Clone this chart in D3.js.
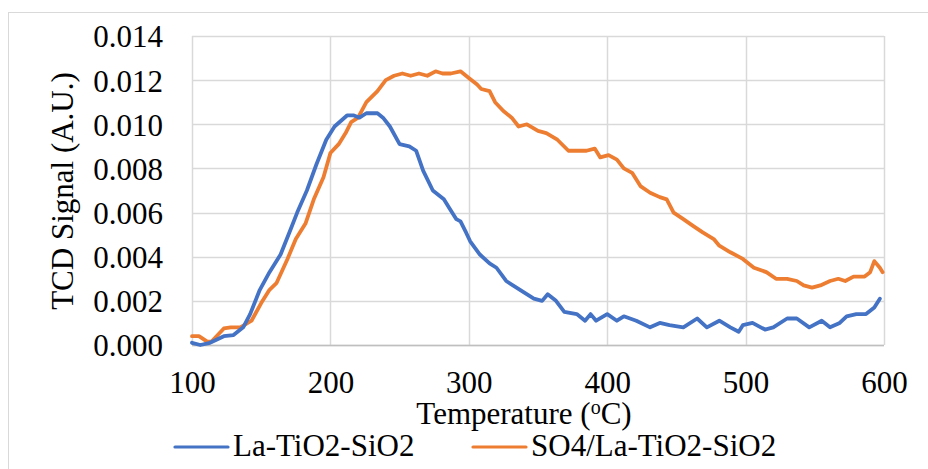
<!DOCTYPE html>
<html>
<head>
<meta charset="utf-8">
<script src="https://cdn.jsdelivr.net/npm/d3@7"></script>
<style>
  body { margin: 0; background: white; }
  svg text { font-family: "Times New Roman", "Liberation Serif", Times, "DejaVu Serif", serif; fill: #000; }
</style>
</head>
<body>
<svg id="chart" width="928" height="469"></svg>
<script>
// values
let blueTemp = [100,106,113,123,130,137,142,149,156,164,171,176,183,190,197,203,212,217,221,226,234,238,243,250,257,262,267,274,282,286,291,294,298,301,308,315,320,327,337,347,353,357,363,369,378,384,388,392,400,407,412,421,431,438,445,455,465,472,481,489,495,498,505,514,520,530,537,546,555,561,568,573,580,587,593,597]
let blueSignal = [0.0001,0.0000,0.0001,0.0004,0.00045,0.0008,0.0014,0.0025,0.0033,0.0041,0.0052,0.0060,0.0070,0.0082,0.0093,0.0099,0.0104,0.0104,0.0103,0.0105,0.0105,0.0103,0.0099,0.0091,0.0090,0.0088,0.0079,0.0070,0.0066,0.0062,0.0057,0.0056,0.0051,0.0047,0.0041,0.0037,0.0035,0.0029,0.0025,0.0021,0.0020,0.0023,0.0020,0.0015,0.0014,0.0011,0.0014,0.0011,0.0014,0.0011,0.0013,0.0011,0.0008,0.0010,0.0009,0.0008,0.0012,0.0008,0.0011,0.0008,0.0006,0.0009,0.0010,0.0007,0.0008,0.0012,0.0012,0.0008,0.0011,0.0008,0.0010,0.0013,0.0014,0.0014,0.0017,0.0021]

let orangeTemp = [100,105,111,114,123,128,135,143,150,156,161,169,175,182,188,195,200,206,211,215,220,226,234,240,246,252,258,264,270,276,281,287,294,300,306,309,315,319,325,331,336,342,350,356,364,372,378,385,391,395,401,407,412,418,424,431,438,443,448,455,462,469,477,481,489,498,506,515,522,530,537,542,548,554,561,567,572,578,586,590,593,597,599]
let orangeSignal = [0.0004,0.0004,0.00015,0.00015,0.00075,0.0008,0.0008,0.0011,0.0019,0.0025,0.0028,0.0039,0.0048,0.0055,0.0066,0.0076,0.0087,0.0091,0.0096,0.0101,0.0103,0.0110,0.0115,0.0120,0.0122,0.0123,0.0122,0.0123,0.0122,0.0124,0.0123,0.0123,0.0124,0.0121,0.0118,0.0116,0.0115,0.0110,0.0106,0.0103,0.0099,0.0100,0.0097,0.0096,0.0093,0.0088,0.0088,0.0088,0.0089,0.0085,0.0086,0.0084,0.0080,0.0078,0.0072,0.0069,0.0067,0.0066,0.0060,0.0057,0.0054,0.0051,0.0048,0.0045,0.0042,0.0039,0.0035,0.0033,0.0030,0.0030,0.0029,0.0027,0.0026,0.0027,0.0029,0.0030,0.0029,0.0031,0.0031,0.0033,0.0038,0.0035,0.0033]

let xTicks = [100, 200, 300, 400, 500, 600]
let yTicks = [0, 0.002, 0.004, 0.006, 0.008, 0.010, 0.012, 0.014]
let seriesNames = ["La-TiO2-SiO2", "SO4/La-TiO2-SiO2"]
let seriesColors = ["#4472C4", "#ED7D31"]

let plotLeft = 192, plotRight = 884, plotTop = 36, plotBottom = 345
let serif = '"Times New Roman", "Liberation Serif", Times, "DejaVu Serif", serif'

let svg = d3.select("#chart")

// outer chart border
svg.append("rect")
  .attr("x", 8.5).attr("y", 12.5)
  .attr("width", 940).attr("height", 480)
  .attr("fill", "white")
  .attr("stroke", "#d9d9d9")

let x = d3.scaleLinear().domain([100, 600]).range([plotLeft, plotRight])
let y = d3.scaleLinear().domain([0, 0.014]).range([plotBottom, plotTop])

// gridlines
let grid = svg.append("g")
grid.selectAll(".hgrid").data(yTicks).enter().append("line")
  .attr("x1", plotLeft).attr("x2", plotRight)
  .attr("y1", d => Math.round(y(d)) + 0.5).attr("y2", d => Math.round(y(d)) + 0.5)
  .attr("stroke", "#d9d9d9").attr("stroke-width", 1.5)
grid.selectAll(".vgrid").data(xTicks).enter().append("line")
  .attr("x1", d => Math.round(x(d)) + 0.5).attr("x2", d => Math.round(x(d)) + 0.5)
  .attr("y1", plotTop).attr("y2", plotBottom)
  .attr("stroke", "#d9d9d9").attr("stroke-width", 1.5)
// bottom axis line
svg.append("line")
  .attr("x1", plotLeft).attr("x2", plotRight)
  .attr("y1", plotBottom + 0.5).attr("y2", plotBottom + 0.5)
  .attr("stroke", "#bfbfbf").attr("stroke-width", 1.5)

// axes (labels only)
let xAxis = svg.append("g")
  .attr("transform", `translate(0,${plotBottom})`)
  .call(d3.axisBottom(x).tickValues(xTicks).tickSize(0).tickFormat(d3.format("d")))
xAxis.attr("font-family", serif)
xAxis.select(".domain").remove()
xAxis.selectAll("text")
  .attr("y", 48).attr("dy", 0)
  .style("font-size", "31px")
  .style("font-family", serif)

let yAxis = svg.append("g")
  .attr("transform", `translate(${plotLeft},0)`)
  .call(d3.axisLeft(y).tickValues(yTicks).tickSize(0).tickPadding(29).tickFormat(d3.format(".3f")))
yAxis.attr("font-family", serif)
yAxis.select(".domain").remove()
yAxis.selectAll("text")
  .attr("dy", "0.35em")
  .style("font-size", "31px")
  .style("font-family", serif)

// lines
let line = d3.line().x(d => x(d[0])).y(d => y(d[1]))
let blueData = blueTemp.map((t, i) => [t, blueSignal[i]])
let orangeData = orangeTemp.map((t, i) => [t, orangeSignal[i]])

svg.append("path").datum(orangeData)
  .attr("d", line)
  .attr("fill", "none")
  .attr("stroke", seriesColors[1])
  .attr("stroke-width", 3.8)
  .attr("stroke-linejoin", "round")
  .attr("stroke-linecap", "round")

svg.append("path").datum(blueData)
  .attr("d", line)
  .attr("fill", "none")
  .attr("stroke", seriesColors[0])
  .attr("stroke-width", 3.8)
  .attr("stroke-linejoin", "round")
  .attr("stroke-linecap", "round")

// axis titles
svg.append("text")
  .attr("transform", "translate(73,191) rotate(-90)")
  .attr("text-anchor", "middle")
  .style("font-family", serif)
  .style("font-size", "31px")
  .text("TCD Signal (A.U.)")

let xTitle = svg.append("text")
  .attr("x", 524).attr("y", 424)
  .attr("text-anchor", "middle")
  .style("font-family", serif)
  .style("font-size", "31px")
xTitle.append("tspan").text("Temperature (")
xTitle.append("tspan").attr("dy", -10).style("font-size", "20px").text("o")
xTitle.append("tspan").attr("dy", 10).text("C)")

// legend
let legendX = [175, 473]
let legend = svg.selectAll(".legend").data(seriesNames).enter().append("g")
  .attr("class", "legend")
  .attr("transform", (d, i) => `translate(${legendX[i]},447)`)
legend.append("line")
  .attr("x1", 0).attr("x2", 53)
  .attr("stroke", (d, i) => seriesColors[i])
  .attr("stroke-width", 3.2)
  .attr("stroke-linecap", "round")
legend.append("text")
  .attr("x", 58).attr("y", 9)
  .style("font-family", serif)
  .style("font-size", "31px")
  .text(d => d)
</script>
</body>
</html>
